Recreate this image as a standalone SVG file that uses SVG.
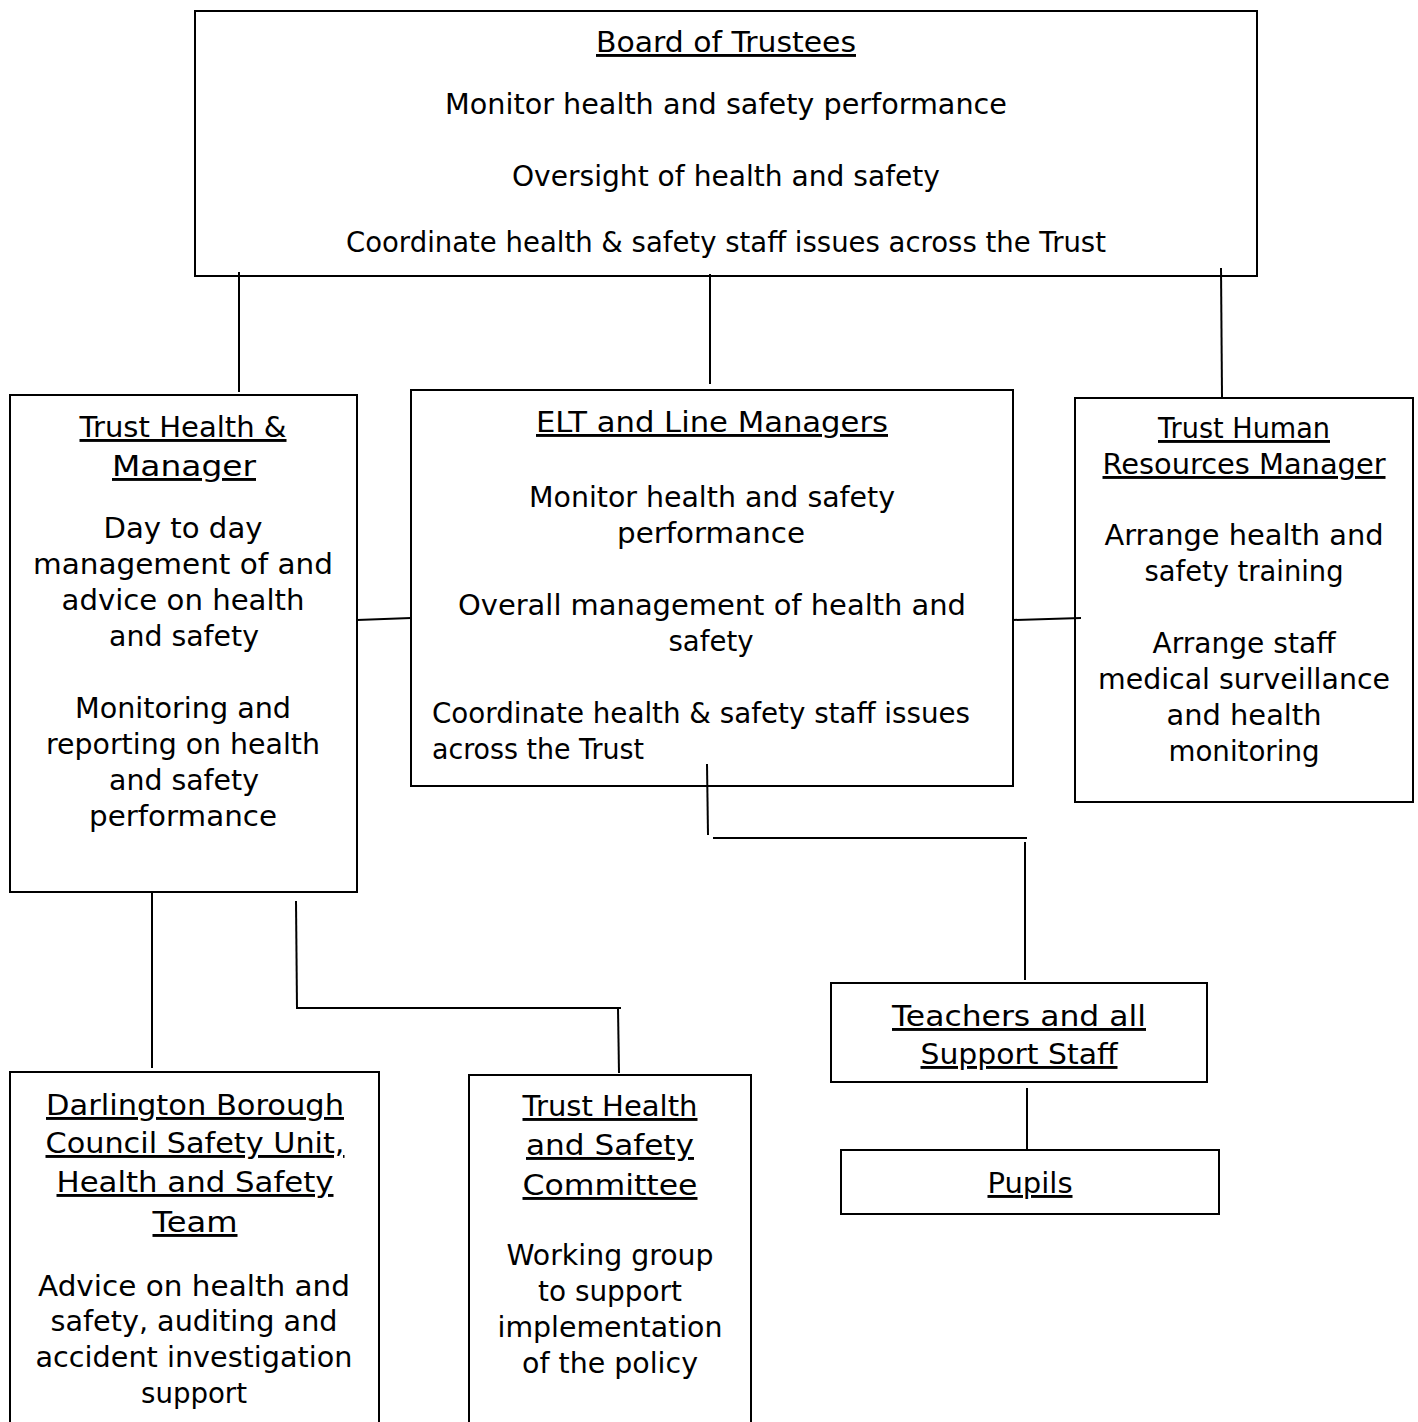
<svg xmlns="http://www.w3.org/2000/svg" width="1418" height="1422" viewBox="0 0 1418 1422">
<style>
.box{fill:#fff;stroke:#000;stroke-width:2}
.ln{fill:none;stroke:#000;stroke-width:2}
text{font-family:"DejaVu Sans","Liberation Sans",sans-serif;font-size:29px;fill:#000;text-anchor:middle}
.u{text-decoration:underline}
.l{text-anchor:start}
</style>
<rect width="1418" height="1422" fill="#fff"/>
<g id="board">
<rect class="box" x="195" y="11" width="1062" height="265"/>
<text class="u" x="726" y="52" textLength="260" lengthAdjust="spacingAndGlyphs">Board of Trustees</text>
<text x="726" y="114" textLength="562" lengthAdjust="spacingAndGlyphs">Monitor health and safety performance</text>
<text x="726" y="186" textLength="428" lengthAdjust="spacingAndGlyphs">Oversight of health and safety</text>
<text x="726" y="252" textLength="760" lengthAdjust="spacingAndGlyphs">Coordinate health &amp; safety staff issues across the Trust</text>
</g>
<g id="trust-hs-manager">
<rect class="box" x="10" y="395" width="347" height="497"/>
<text class="u" x="183" y="437" textLength="207" lengthAdjust="spacingAndGlyphs">Trust Health &amp;</text>
<text class="u" x="184" y="476" textLength="144" lengthAdjust="spacingAndGlyphs">Manager</text>
<text x="183" y="538" textLength="159" lengthAdjust="spacingAndGlyphs">Day to day</text>
<text x="183" y="574" textLength="300" lengthAdjust="spacingAndGlyphs">management of and</text>
<text x="183" y="610" textLength="243" lengthAdjust="spacingAndGlyphs">advice on health</text>
<text x="184" y="646" textLength="150" lengthAdjust="spacingAndGlyphs">and safety</text>
<text x="183" y="718" textLength="216" lengthAdjust="spacingAndGlyphs">Monitoring and</text>
<text x="183" y="754" textLength="274" lengthAdjust="spacingAndGlyphs">reporting on health</text>
<text x="184" y="790" textLength="150" lengthAdjust="spacingAndGlyphs">and safety</text>
<text x="183" y="826" textLength="188" lengthAdjust="spacingAndGlyphs">performance</text>
</g>
<g id="elt">
<rect class="box" x="411" y="390" width="602" height="396"/>
<text class="u" x="712" y="432" textLength="352" lengthAdjust="spacingAndGlyphs">ELT and Line Managers</text>
<text x="712" y="507" textLength="366" lengthAdjust="spacingAndGlyphs">Monitor health and safety</text>
<text x="711" y="543" textLength="188" lengthAdjust="spacingAndGlyphs">performance</text>
<text x="712" y="615" textLength="508" lengthAdjust="spacingAndGlyphs">Overall management of health and</text>
<text x="711" y="651" textLength="85" lengthAdjust="spacingAndGlyphs">safety</text>
<text class="l" x="432" y="723" textLength="538" lengthAdjust="spacingAndGlyphs">Coordinate health &amp; safety staff issues</text>
<text class="l" x="432" y="759" textLength="212" lengthAdjust="spacingAndGlyphs">across the Trust</text>
</g>
<g id="hr-manager">
<rect class="box" x="1075" y="398" width="338" height="404"/>
<text class="u" x="1244" y="438" textLength="172" lengthAdjust="spacingAndGlyphs">Trust Human</text>
<text class="u" x="1244" y="474" textLength="283" lengthAdjust="spacingAndGlyphs">Resources Manager</text>
<text x="1244" y="545" textLength="279" lengthAdjust="spacingAndGlyphs">Arrange health and</text>
<text x="1244" y="581" textLength="199" lengthAdjust="spacingAndGlyphs">safety training</text>
<text x="1244" y="653" textLength="183" lengthAdjust="spacingAndGlyphs">Arrange staff</text>
<text x="1244" y="689" textLength="292" lengthAdjust="spacingAndGlyphs">medical surveillance</text>
<text x="1244" y="725" textLength="155" lengthAdjust="spacingAndGlyphs">and health</text>
<text x="1244" y="761" textLength="151" lengthAdjust="spacingAndGlyphs">monitoring</text>
</g>
<g id="teachers">
<rect class="box" x="831" y="983" width="376" height="99"/>
<text class="u" x="1019" y="1026" textLength="254" lengthAdjust="spacingAndGlyphs">Teachers and all</text>
<text class="u" x="1019" y="1064" textLength="197" lengthAdjust="spacingAndGlyphs">Support Staff</text>
</g>
<g id="pupils">
<rect class="box" x="841" y="1150" width="378" height="64"/>
<text class="u" x="1030" y="1193" textLength="85" lengthAdjust="spacingAndGlyphs">Pupils</text>
</g>
<g id="darlington">
<rect class="box" x="10" y="1072" width="369" height="400"/>
<text class="u" x="195" y="1115" textLength="298" lengthAdjust="spacingAndGlyphs">Darlington Borough</text>
<text class="u" x="195" y="1153" textLength="299" lengthAdjust="spacingAndGlyphs">Council Safety Unit,</text>
<text class="u" x="195" y="1192" textLength="277" lengthAdjust="spacingAndGlyphs">Health and Safety</text>
<text class="u" x="195" y="1232" textLength="85" lengthAdjust="spacingAndGlyphs">Team</text>
<text x="194" y="1296" textLength="312" lengthAdjust="spacingAndGlyphs">Advice on health and</text>
<text x="194" y="1331" textLength="287" lengthAdjust="spacingAndGlyphs">safety, auditing and</text>
<text x="194" y="1367" textLength="317" lengthAdjust="spacingAndGlyphs">accident investigation</text>
<text x="194" y="1403" textLength="106" lengthAdjust="spacingAndGlyphs">support</text>
</g>
<g id="committee">
<rect class="box" x="469" y="1075" width="282" height="400"/>
<text class="u" x="610" y="1116" textLength="175" lengthAdjust="spacingAndGlyphs">Trust Health</text>
<text class="u" x="610" y="1155" textLength="168" lengthAdjust="spacingAndGlyphs">and Safety</text>
<text class="u" x="610" y="1195" textLength="175" lengthAdjust="spacingAndGlyphs">Committee</text>
<text x="610" y="1265" textLength="207" lengthAdjust="spacingAndGlyphs">Working group</text>
<text x="610" y="1301" textLength="144" lengthAdjust="spacingAndGlyphs">to support</text>
<text x="610" y="1337" textLength="225" lengthAdjust="spacingAndGlyphs">implementation</text>
<text x="610" y="1373" textLength="176" lengthAdjust="spacingAndGlyphs">of the policy</text>
</g>
<g id="connectors">
<path class="ln" d="M239 272V392"/>
<path class="ln" d="M710 274V384"/>
<path class="ln" d="M1221 268L1222 398"/>
<path class="ln" d="M357 620L411 618"/>
<path class="ln" d="M1013 620L1081 618"/>
<path class="ln" d="M707 764L708 835"/>
<path class="ln" d="M713 838H1027"/>
<path class="ln" d="M1025 842V980"/>
<path class="ln" d="M1027 1088V1150"/>
<path class="ln" d="M152 892V1068"/>
<path class="ln" d="M296 901L297 1009"/>
<path class="ln" d="M297 1008H621"/>
<path class="ln" d="M618 1008L619 1073"/>
</g>
</svg>
